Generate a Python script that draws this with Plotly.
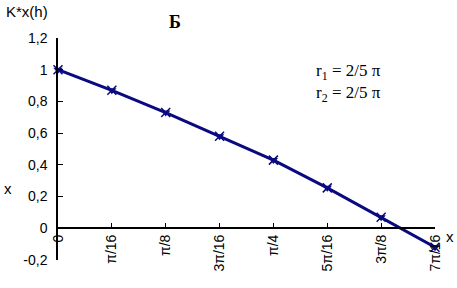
import math
import plotly.graph_objects as go

# data
x_sixteenths = [0, 1, 2, 3, 4, 5, 6, 7]          # multiples of pi/16
x_labels = ["0", "π/16", "π/8", "3π/16", "π/4", "5π/16", "3π/8", "7π/16"]
y_values = [1.0, 0.87, 0.73, 0.58, 0.43, 0.255, 0.07, -0.12]
y_ticks = [-0.2, 0, 0.2, 0.4, 0.6, 0.8, 1.0, 1.2]
y_tick_labels = ["-0,2", "0", "0,2", "0,4", "0,6", "0,8", "1", "1,2"]

x_values = [k * math.pi / 16 for k in x_sixteenths]

navy = "#0A0A80"
fig = go.Figure()
fig.add_trace(go.Scatter(
    x=x_values, y=y_values, mode="lines+markers",
    line=dict(color=navy, width=3),
    marker=dict(symbol="triangle-down", size=8, color=navy),
    showlegend=False, cliponaxis=False,
))
fig.add_trace(go.Scatter(
    x=x_values, y=y_values, mode="markers",
    marker=dict(symbol="x-thin-open", size=9, color=navy, line=dict(width=1.5, color=navy)),
    showlegend=False, cliponaxis=False,
))

yr = [-0.2, 1.2]
fig.update_layout(
    width=457, height=288,
    margin=dict(l=58, r=22, t=38, b=28, autoexpand=False),
    paper_bgcolor="white", plot_bgcolor="white",
    font=dict(family="Liberation Sans, Arial", size=14, color="black"),
    xaxis=dict(
        range=[0, 7 * math.pi / 16],
        tickvals=x_values, ticktext=x_labels, tickangle=-90,
        anchor="free", position=(0 - yr[0]) / (yr[1] - yr[0]),
        showline=True, linecolor="black", linewidth=1.5,
        ticks="inside", ticklen=5, tickcolor="black",
        showgrid=False, zeroline=False, automargin=False,
        tickfont=dict(size=14),
    ),
    yaxis=dict(
        range=yr,
        tickvals=y_ticks, ticktext=y_tick_labels,
        showline=True, linecolor="black", linewidth=1.5,
        ticks="inside", ticklen=5, tickcolor="black",
        showgrid=False, zeroline=False, automargin=False,
        tickfont=dict(size=14),
        ticklabelstandoff=6,
    ),
    annotations=[
        dict(text="K*x(h)", xref="paper", yref="paper", x=-0.143, y=1.12,
             xanchor="left", yanchor="middle", showarrow=False,
             font=dict(size=15, family="Liberation Sans, Arial")),
        dict(text="<b>Б</b>", xref="paper", yref="paper", x=0.31, y=1.072,
             xanchor="center", yanchor="middle", showarrow=False,
             font=dict(size=18, family="Liberation Serif, Times New Roman")),
        dict(text="x", xref="paper", yref="paper", x=-0.133, y=0.324,
             xanchor="center", yanchor="middle", showarrow=False,
             font=dict(size=15)),
        dict(text="x", xref="paper", yref="paper", x=1.04, y=0.108,
             xanchor="center", yanchor="middle", showarrow=False,
             font=dict(size=15)),
        dict(text="r<sub>1</sub> = 2/5 π<br>r<sub>2</sub> = 2/5 π",
             xref="paper", yref="paper", x=0.68, y=0.797,
             xanchor="left", yanchor="middle", align="left", showarrow=False,
             font=dict(size=17, family="Liberation Serif, Times New Roman")),
    ],
)
fig.write_html("out.html", config={"displayModeBar": False},
               post_script="document.body.style.margin='0';")
